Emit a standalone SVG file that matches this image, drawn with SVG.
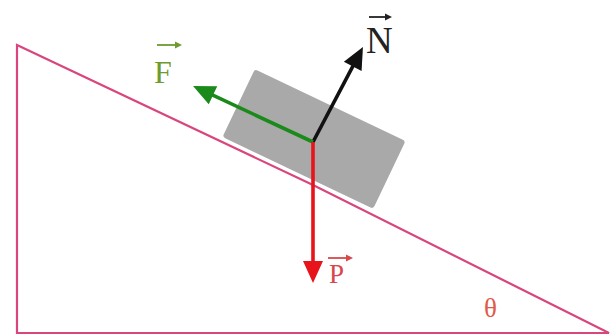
<svg xmlns="http://www.w3.org/2000/svg" width="614" height="336" viewBox="0 0 614 336">
<style>
.incline{fill:none;stroke:#d9467d;stroke-width:2.2;stroke-linejoin:miter}
.block{fill:#a9a9a9}
.force{fill:none;stroke-width:3.6;stroke-linecap:butt}
.lbl{font-family:"Liberation Serif","Times New Roman",serif}
.vec{stroke-width:1.8;fill:none}
</style>
<defs>
<marker id="hN" markerUnits="userSpaceOnUse" markerWidth="24" markerHeight="20" refX="12" refY="10" orient="auto" overflow="visible"><path d="M0,0 L22,10 L0,20 Z" fill="#111"/></marker>
<marker id="hF" markerUnits="userSpaceOnUse" markerWidth="24" markerHeight="20" refX="12" refY="10" orient="auto" overflow="visible"><path d="M0,0 L22,10 L0,20 Z" fill="#1a8a1a"/></marker>
<marker id="hP" markerUnits="userSpaceOnUse" markerWidth="24" markerHeight="20" refX="12" refY="10" orient="auto" overflow="visible"><path d="M0,0 L22,10 L0,20 Z" fill="#e8141c"/></marker>
</defs>
<rect width="614" height="336" fill="#ffffff"/>
<g id="block">
<rect class="block" x="-83.5" y="-37.5" width="167" height="75" rx="3" transform="translate(314 139) rotate(25.5)"/>
</g>
<g id="incline">
<polygon class="incline" points="17,45 313,185 609,333 17,333"/>
</g>
<g id="connectors">
<g id="force-N"><line class="force" x1="313" y1="142" x2="358.3" y2="55.8" stroke="#111" marker-end="url(#hN)"/></g>
<g id="force-F"><line class="force" x1="313" y1="142" x2="202.1" y2="90.2" stroke="#1a8a1a" marker-end="url(#hF)"/></g>
<g id="force-P"><line class="force" x1="313" y1="142" x2="313" y2="273" stroke="#e8141c" marker-end="url(#hP)"/></g>
</g>
<g id="label-N">
<text class="lbl" x="366" y="53" font-size="37" fill="#222">N</text>
<line class="vec" x1="369" y1="17" x2="388" y2="17" stroke="#222"/><path d="M385,13.5 L392,17 L385,20.5 Z" fill="#222"/>
</g>
<g id="label-F">
<text class="lbl" x="154" y="83" font-size="32" fill="#6f9a2e">F</text>
<line class="vec" x1="157" y1="45" x2="178" y2="45" stroke="#6f9a2e"/><path d="M175,41.5 L182,45 L175,48.5 Z" fill="#6f9a2e"/>
</g>
<g id="label-P">
<text class="lbl" x="329" y="283" font-size="27" fill="#d8474a">P</text>
<line class="vec" x1="328" y1="258" x2="349" y2="258" stroke="#d8474a"/><path d="M346,254.5 L353,258 L346,261.5 Z" fill="#d8474a"/>
</g>
<g id="label-theta">
<text class="lbl" x="484" y="317" font-size="27" fill="#e05a4a">θ</text>
</g>
</svg>
